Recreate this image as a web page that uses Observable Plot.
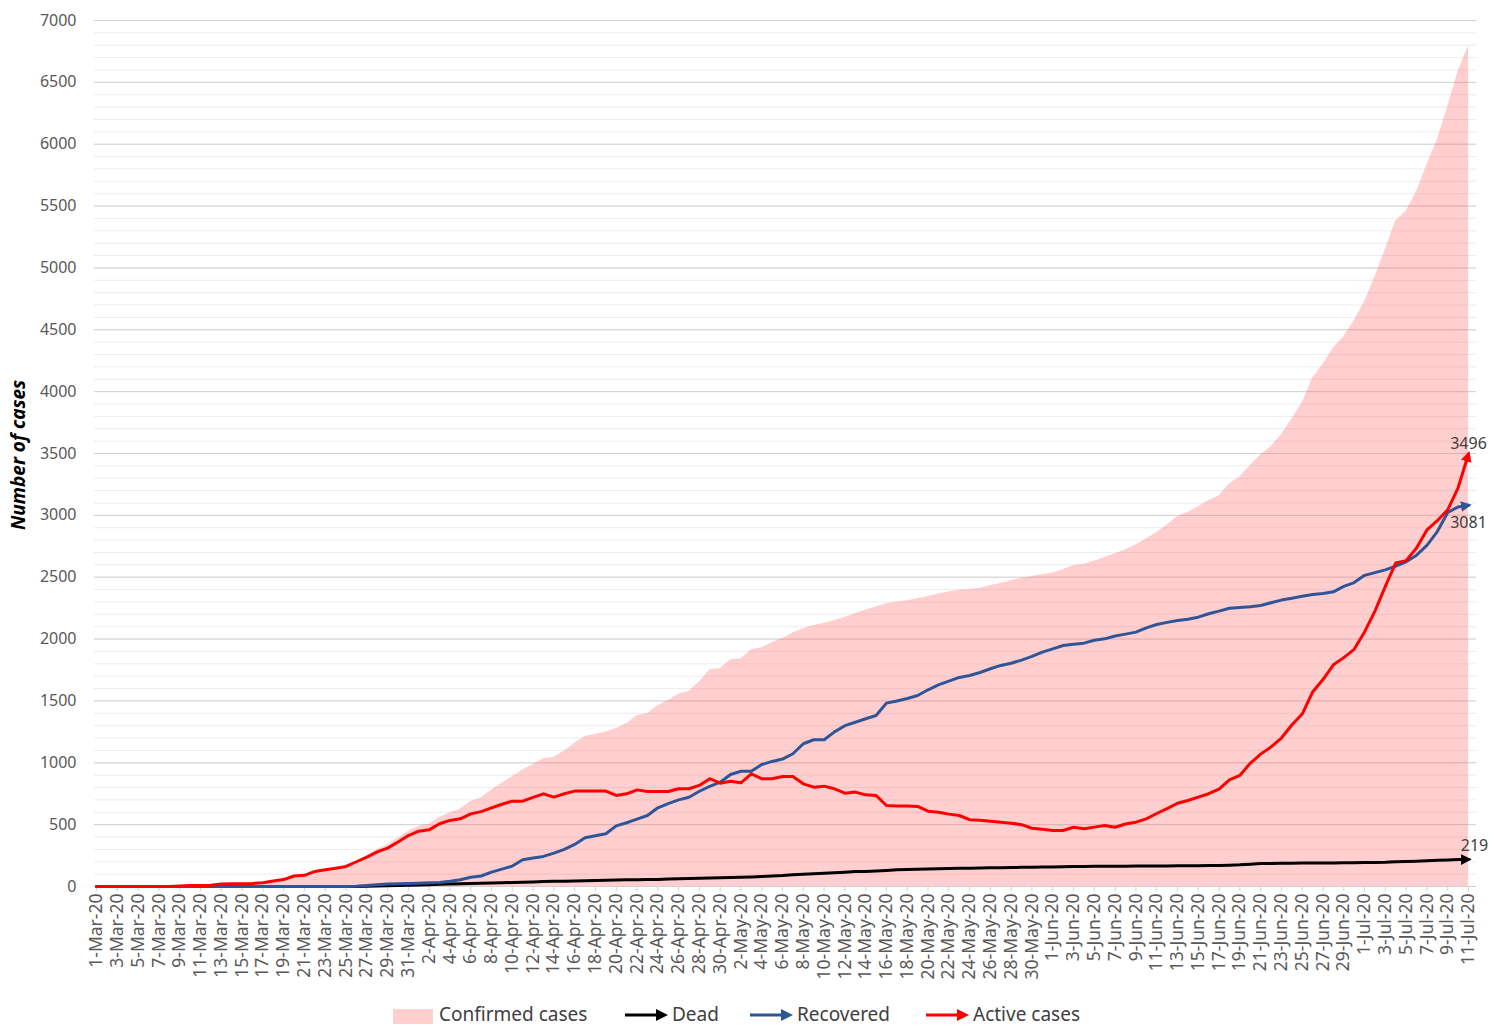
<!DOCTYPE html>
<html><head><meta charset="utf-8">
<script src="https://cdn.jsdelivr.net/npm/d3@7"></script>
<script src="https://cdn.jsdelivr.net/npm/@observablehq/plot@0.6"></script>
<style>
body{margin:0;background:#fff;font-family:"Noto Sans",sans-serif;}
#wrap{position:relative;width:1498px;height:1027px;overflow:hidden;}
#ylabel{position:absolute;left:18px;top:455px;transform:translate(-50%,-50%) rotate(-90deg);font-weight:bold;font-style:italic;font-size:19px;color:#000;white-space:nowrap;}
.lg{position:absolute;top:1003px;height:23px;line-height:23px;font-size:19px;color:#404040;white-space:nowrap;}
.sw{position:absolute;top:1009px;}
</style></head>
<body><div id="wrap"><div id="chart"></div><div id="ylabel">Number of cases</div>
<div class="sw" style="left:393px;width:40px;height:15px;background:rgb(255,207,207)"></div>
<div class="lg" style="left:439px">Confirmed cases</div>
<svg class="sw" style="left:625px;top:1007px" width="44" height="16"><line x1="0" y1="8" x2="33" y2="8" stroke="#000" stroke-width="3"/><polygon points="31,2 43,8 31,14" fill="#000"/></svg>
<div class="lg" style="left:672px">Dead</div>
<svg class="sw" style="left:750px;top:1007px" width="44" height="16"><line x1="0" y1="8" x2="33" y2="8" stroke="#2f5597" stroke-width="3"/><polygon points="31,2 43,8 31,14" fill="#2f5597"/></svg>
<div class="lg" style="left:797px">Recovered</div>
<svg class="sw" style="left:926px;top:1007px" width="44" height="16"><line x1="0" y1="8" x2="33" y2="8" stroke="#ff0000" stroke-width="3"/><polygon points="31,2 43,8 31,14" fill="#ff0000"/></svg>
<div class="lg" style="left:973px">Active cases</div>
</div>
<script>
// Daily series, 1-Mar-20 to 11-Jul-20
const confirmed = [0,0,0,0,0,0,0,0,5,8,8,10,20,22,22,25,30,45,56,85,90,122,135,148,162,203,247,299,337,391,447,
486,503,558,597,624,687,717,779,835,887,941,987,1032,1045,1093,1158,1213,1229,1248,1278,1318,1380,1398,1461,1501,1553,1577,1652,1750,1760,
1833,1841,1913,1930,1970,2005,2050,2085,2110,2125,2150,2175,2205,2235,2260,2285,2300,2310,2326,2345,2365,2380,2395,2400,2410,2430,2450,2474,2490,2505,2520,
2535,2560,2595,2605,2630,2660,2690,2720,2760,2810,2860,2920,2990,3023,3068,3120,3157,3254,3311,3400,3488,3555,3652,3776,3909,4108,4219,4352,4441,4573,
4729,4927,5149,5379,5459,5614,5835,6035,6300,6588,6796];
const dead = [0,0,0,0,0,0,0,0,0,0,0,0,0,0,0,0,0,0,0,0,0,0,0,0,0,0,2,4,6,8,10,
12,15,18,20,22,25,27,28,30,32,35,37,40,42,43,45,47,48,50,52,54,55,56,57,60,63,65,67,69,70,
72,74,77,80,84,88,94,100,104,108,112,116,121,121,125,130,135,137,139,141,143,145,147,148,150,151,152,153,155,156,157,
158,160,162,162,163,163,164,164,165,165,166,166,167,168,168,169,170,172,175,180,185,186,187,188,189,189,190,190,191,192,
193,194,196,200,203,205,208,212,215,218,219];
const recovered = [0,0,0,0,0,0,0,0,0,0,0,0,0,0,0,0,0,0,0,0,0,0,0,0,0,3,8,15,21,23,25,
27,30,33,43,55,75,85,116,140,165,216,230,243,270,300,340,394,410,426,490,515,545,574,636,670,700,722,770,810,843,
905,932,932,986,1011,1030,1073,1154,1186,1186,1250,1300,1328,1356,1382,1482,1500,1520,1544,1590,1630,1660,1690,1706,1730,1760,1787,1805,1830,1860,1895,
1921,1948,1958,1967,1990,2002,2025,2040,2056,2090,2118,2135,2150,2160,2177,2205,2226,2249,2255,2262,2271,2293,2315,2330,2346,2360,2369,2382,2426,2457,
2515,2537,2559,2590,2625,2678,2758,2869,3023,3068,3081];
const active = [0,0,0,0,0,0,0,0,5,8,8,10,20,22,22,25,30,45,56,85,90,122,135,148,162,200,237,280,310,360,412,
447,458,507,534,547,587,605,635,665,690,690,720,749,722,750,771,771,771,771,736,749,781,768,768,768,790,790,817,871,835,
851,838,911,871,871,889,889,830,803,811,790,754,763,741,736,655,650,650,647,609,600,585,574,540,535,528,520,512,500,471,462,
453,453,479,466,480,493,479,505,520,547,590,630,673,695,722,750,787,862,898,996,1070,1128,1200,1305,1394,1572,1673,1792,1850,1917,
2058,2226,2426,2616,2634,2736,2882,2957,3045,3223,3496];
const yTicks = [0,500,1000,1500,2000,2500,3000,3500,4000,4500,5000,5500,6000,6500,7000];
const monthNames = ["Jan","Feb","Mar","Apr","May","Jun","Jul","Aug","Sep","Oct","Nov","Dec"];

const DAY = 864e5;
const start = Date.UTC(2020,2,1);
const dates = confirmed.map((_, i) => new Date(start + i*DAY));
const rows = dates.map((d, i) => ({date: d, confirmed: confirmed[i], dead: dead[i], recovered: recovered[i], active: active[i]}));
const xTicks = dates.filter((d, i) => i % 2 === 0);
const fmt = d => `${d.getUTCDate()}-${monthNames[d.getUTCMonth()]}-20`;
const last = rows[rows.length - 1];
const minor = d3.range(0, 7001, 100);

const chart = Plot.plot({
  width: 1498, height: 1000,
  marginLeft: 94, marginRight: 22, marginTop: 20, marginBottom: 114,
  x: {type: "utc", domain: [new Date(start - 0.2*DAY), new Date(last.date.getTime() + 0.77*DAY)]},
  y: {domain: [0, 7000]},
  style: {fontFamily: "'Noto Sans', sans-serif", fontSize: "16px", color: "#595959", background: "white", overflow: "visible"},
  marks: [
    Plot.ruleY(minor, {stroke: "#ececec"}),
    Plot.ruleY(yTicks, {stroke: "#d2d2d2"}),
    Plot.areaY(rows, {x: "date", y: "confirmed", fill: "rgb(255,110,110)", fillOpacity: 0.33}),
    Plot.ruleY([0], {stroke: "#d0d0d0"}),
    Plot.axisY({ticks: yTicks, tickSize: 0, tickPadding: 18, tickFormat: d => String(d), label: null, fontSize: 16, fill: "#595959"}),
    Plot.axisX({ticks: xTicks, tickFormat: fmt, tickRotate: -90, tickSize: 5, tickPadding: 2, label: null, fontSize: 17.5, stroke: "#d0d0d0", fill: "#595959"}),
    Plot.line(rows, {x: "date", y: "dead", stroke: "#000000", strokeWidth: 3}),
    Plot.line(rows, {x: "date", y: "recovered", stroke: "#2f5597", strokeWidth: 3}),
    Plot.line(rows, {x: "date", y: "active", stroke: "#ff0000", strokeWidth: 3}),
    Plot.text([last], {x: "date", y: "active", text: d => String(d.active), dy: -10, fill: "#404040", fontSize: 16}),
    Plot.text([last], {x: "date", y: "recovered", text: d => String(d.recovered), dy: 18, fill: "#404040", fontSize: 16}),
    Plot.text([last], {x: "date", y: "dead", text: d => String(d.dead), dy: -14, dx: 6, fill: "#404040", fontSize: 16})
  ]
});

// filled arrowheads at line ends
const ns = "http://www.w3.org/2000/svg";
const defs = document.createElementNS(ns, "defs");
const colors = ["#000000", "#2f5597", "#ff0000"];
colors.forEach((c, k) => {
  const m = document.createElementNS(ns, "marker");
  m.setAttribute("id", "arr" + k);
  m.setAttribute("viewBox", "0 0 10 10");
  m.setAttribute("refX", "7");
  m.setAttribute("refY", "5");
  m.setAttribute("markerWidth", "3.6");
  m.setAttribute("markerHeight", "3.6");
  m.setAttribute("orient", "auto");
  m.setAttribute("markerUnits", "strokeWidth");
  const p = document.createElementNS(ns, "path");
  p.setAttribute("d", "M0,0L10,5L0,10z");
  p.setAttribute("fill", c);
  m.appendChild(p);
  defs.appendChild(m);
});
chart.insertBefore(defs, chart.firstChild);
const lineGroups = chart.querySelectorAll('g[aria-label="line"]');
lineGroups.forEach((g, k) => {
  g.querySelectorAll("path").forEach(p => p.setAttribute("marker-end", `url(#arr${k})`));
});
document.getElementById("chart").appendChild(chart);
</script>
</body></html>
